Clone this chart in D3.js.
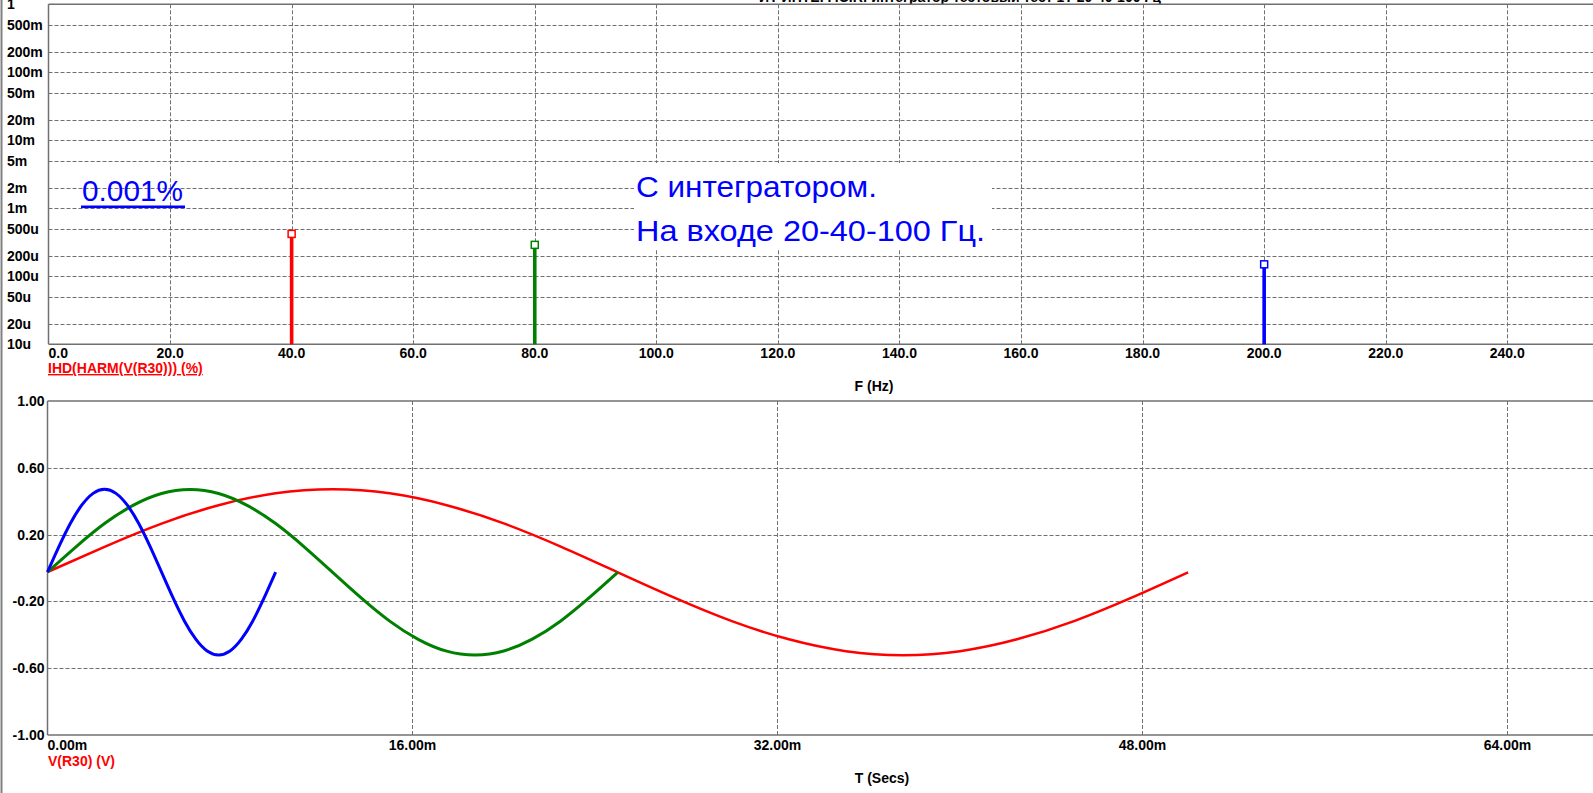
<!DOCTYPE html>
<html><head><meta charset="utf-8">
<script src="https://cdn.jsdelivr.net/npm/d3@7"></script>
<style>
html,body{margin:0;padding:0;background:#fff;overflow:hidden}
svg{display:block}
text{font-family:"Liberation Sans",Arial,sans-serif}
</style></head>
<body>
<script>
// ---------- DATA ----------
const titleText = "ИТ ИНТЕГР.CIR: интегратор тестовый тест 1Т 20-40-100 Гц";
// Top chart: harmonic distortion (IHD) spectrum
const harmFreq = [40, 80, 200];
const harmIHD = [4.2e-4, 2.9e-4, 1.5e-4];   // %
const harmColors = ["#ff0000", "#008000", "#0000ff"];
const fTicks = [0, 20, 40, 60, 80, 100, 120, 140, 160, 180, 200, 220, 240];
const fTickLabels = ["0.0","20.0","40.0","60.0","80.0","100.0","120.0","140.0","160.0","180.0","200.0","220.0","240.0"];
const ihdTicks = [1, 0.5, 0.2, 0.1, 0.05, 0.02, 0.01, 0.005, 0.002, 0.001, 5e-4, 2e-4, 1e-4, 5e-5, 2e-5, 1e-5];
const ihdTickLabels = ["1","500m","200m","100m","50m","20m","10m","5m","2m","1m","500u","200u","100u","50u","20u","10u"];
// Bottom chart: V(R30) transient, time in ms
const tBlue  = [0,0.5,1,1.5,2,2.5,3,3.5,4,4.5,5,5.5,6,6.5,7,7.5,8,8.5,9,9.5,10];
const vBlue  = [-0.024,0.128,0.267,0.376,0.447,0.471,0.447,0.376,0.267,0.128,-0.025,-0.178,-0.317,-0.426,-0.497,-0.521,-0.497,-0.426,-0.317,-0.178,-0.025];
const tGreen = [0,1.25,2.5,3.75,5,6.25,7.5,8.75,10,11.25,12.5,13.75,15,16.25,17.5,18.75,20,21.25,22.5,23.75,25];
const vGreen = [-0.024,0.127,0.266,0.375,0.446,0.470,0.446,0.375,0.266,0.127,-0.026,-0.179,-0.318,-0.427,-0.498,-0.521,-0.497,-0.426,-0.317,-0.178,-0.026];
const tRed   = [0,2.5,5,7.5,10,12.5,15,17.5,20,22.5,25,27.5,30,32.5,35,37.5,40,42.5,45,47.5,50];
const vRed   = [-0.024,0.127,0.266,0.376,0.447,0.471,0.447,0.376,0.267,0.128,-0.026,-0.179,-0.318,-0.427,-0.498,-0.522,-0.498,-0.427,-0.318,-0.179,-0.026];
const tTicks = [0, 16, 32, 48, 64];
const tTickLabels = ["0.00m","16.00m","32.00m","48.00m","64.00m"];
const vTicks = [1, 0.6, 0.2, -0.2, -0.6, -1];
const vTickLabels = ["1.00","0.60","0.20","-0.20","-0.60","-1.00"];
const traces = [
  {t: tRed, v: vRed, color: "#ff0000", w: 2.5},
  {t: tGreen, v: vGreen, color: "#008000", w: 3},
  {t: tBlue, v: vBlue, color: "#0000ff", w: 3}
];

// ---------- LAYOUT ----------
const W = 1593, H = 793;
const gridColor = "#707070", frameColor = "#707070";
const FS = 14;
const svg = d3.select("body").append("svg").attr("width", W).attr("height", H);

// window left edge
svg.append("line").attr("x1",1.5).attr("x2",1.5).attr("y1",0).attr("y2",H)
  .attr("stroke","#808080").attr("stroke-width",2);

// title (clipped at top, as in the reference)
svg.append("text").attr("x", 960).attr("y", 2).attr("text-anchor","middle")
  .attr("font-size",FS).attr("font-weight","bold").attr("fill","#000").text(titleText);

// ===== TOP CHART =====
const x1 = d3.scaleLinear().domain([0, 254.1]).range([48.5, 1593]);
const y1 = d3.scaleLog().domain([1e-5, 1]).range([344.3, 4.3]);
const gTop = svg.append("g");

gTop.selectAll(".hg").data(ihdTicks.filter(d => d !== 1 && d !== 1e-5)).enter().append("line")
  .attr("x1", x1(0)).attr("x2", W).attr("y1", d => Math.round(y1(d))+0.5).attr("y2", d => Math.round(y1(d))+0.5)
  .attr("stroke", gridColor).attr("stroke-dasharray","4,2").attr("stroke-width",1);
gTop.selectAll(".vg").data(fTicks.slice(1)).enter().append("line")
  .attr("x1", d => Math.round(x1(d))+0.5).attr("x2", d => Math.round(x1(d))+0.5)
  .attr("y1", y1(1)).attr("y2", y1(1e-5))
  .attr("stroke", gridColor).attr("stroke-dasharray","4,2").attr("stroke-width",1);

// annotation box (covers grid)
const noteLines = ["С интегратором.", "На входе 20-40-100 Гц."];
const noteWidths = [241, 349];
gTop.append("rect").attr("x",634).attr("y",163).attr("width",358).attr("height",86).attr("fill","#fff");

// frame
gTop.append("line").attr("x1", x1(0)).attr("x2", W).attr("y1", y1(1)).attr("y2", y1(1)).attr("stroke", frameColor).attr("stroke-width",1.5);
gTop.append("line").attr("x1", x1(0)).attr("x2", W).attr("y1", y1(1e-5)).attr("y2", y1(1e-5)).attr("stroke", frameColor).attr("stroke-width",1.5);
gTop.append("line").attr("x1", x1(0)).attr("x2", x1(0)).attr("y1", y1(1)).attr("y2", y1(1e-5)).attr("stroke", frameColor).attr("stroke-width",1.5);

gTop.selectAll(".yl").data(ihdTicks).enter().append("text")
  .attr("x", 7).attr("y", d => y1(d)).attr("dy","0.36em")
  .attr("font-size",FS).attr("font-weight","bold").attr("fill","#000")
  .text((d,i) => ihdTickLabels[i]);
gTop.selectAll(".xl").data(fTicks).enter().append("text")
  .attr("x", d => x1(d)).attr("y", 358)
  .attr("text-anchor", (d,i) => i === 0 ? "start" : "middle")
  .attr("font-size",FS).attr("font-weight","bold").attr("fill","#000")
  .text((d,i) => fTickLabels[i]);

// stems
const stems = harmFreq.map((f,i) => ({f, v: harmIHD[i], c: harmColors[i]}));
gTop.selectAll(".stem").data(stems).enter().append("line")
  .attr("x1", d => x1(d.f)).attr("x2", d => x1(d.f))
  .attr("y1", y1(1e-5)).attr("y2", d => y1(d.v) + 3.5)
  .attr("stroke", d => d.c).attr("stroke-width",3.6);
gTop.selectAll(".mk").data(stems).enter().append("rect")
  .attr("x", d => x1(d.f) - 3.5).attr("y", d => y1(d.v) - 3.5)
  .attr("width",7).attr("height",7)
  .attr("fill","#fff").attr("stroke", d => d.c).attr("stroke-width",1.5);

gTop.append("text").attr("x",48).attr("y",373).attr("font-size",FS).attr("font-weight","bold")
  .attr("fill","#ff0000").attr("text-decoration","underline").text("IHD(HARM(V(R30))) (%)");
gTop.append("text").attr("x",874).attr("y",391).attr("text-anchor","middle").attr("font-size",FS).attr("font-weight","bold")
  .attr("fill","#000").text("F (Hz)");

// annotations
gTop.append("text").attr("x",82).attr("y",200.7).attr("font-family","Lato, sans-serif").attr("font-size",30)
  .attr("fill","#0000ff").attr("textLength",101).attr("lengthAdjust","spacingAndGlyphs").text("0.001%");
gTop.append("rect").attr("x",81).attr("y",205.5).attr("width",104).attr("height",2.6).attr("fill","#0000ff");
noteLines.forEach((s,i) => {
  gTop.append("text").attr("x",636).attr("y", i === 0 ? 196.7 : 240.7)
    .attr("font-family","'Comic Sans MS','Comic Neue','Open Sans',sans-serif").attr("font-size",29)
    .attr("fill","#0000ff").attr("textLength", noteWidths[i]).attr("lengthAdjust","spacingAndGlyphs").text(s);
});

// ===== BOTTOM CHART =====
const x2 = d3.scaleLinear().domain([0, 67.75]).range([47.5, 1593]);
const y2 = d3.scaleLinear().domain([-1, 1]).range([735, 401]);
const gBot = svg.append("g");

gBot.selectAll(".hg").data(vTicks.slice(1,-1)).enter().append("line")
  .attr("x1", x2(0)).attr("x2", W).attr("y1", d => Math.round(y2(d))+0.5).attr("y2", d => Math.round(y2(d))+0.5)
  .attr("stroke", gridColor).attr("stroke-dasharray","4,2").attr("stroke-width",1);
gBot.selectAll(".vg").data(tTicks.slice(1)).enter().append("line")
  .attr("x1", d => Math.round(x2(d))+0.5).attr("x2", d => Math.round(x2(d))+0.5)
  .attr("y1", y2(1)).attr("y2", y2(-1))
  .attr("stroke", gridColor).attr("stroke-dasharray","4,2").attr("stroke-width",1);

gBot.append("line").attr("x1", x2(0)).attr("x2", W).attr("y1", y2(1)).attr("y2", y2(1)).attr("stroke", frameColor).attr("stroke-width",1.5);
gBot.append("line").attr("x1", x2(0)).attr("x2", W).attr("y1", y2(-1)).attr("y2", y2(-1)).attr("stroke", frameColor).attr("stroke-width",1.5);
gBot.append("line").attr("x1", x2(0)).attr("x2", x2(0)).attr("y1", y2(1)).attr("y2", y2(-1)).attr("stroke", frameColor).attr("stroke-width",1.5);

gBot.selectAll(".yl").data(vTicks).enter().append("text")
  .attr("x", 44.5).attr("y", d => y2(d)).attr("dy","0.36em").attr("text-anchor","end")
  .attr("font-size",FS).attr("font-weight","bold").attr("fill","#000")
  .text((d,i) => vTickLabels[i]);
gBot.selectAll(".xl").data(tTicks).enter().append("text")
  .attr("x", d => x2(d)).attr("y", 749.5)
  .attr("text-anchor", (d,i) => i === 0 ? "start" : "middle")
  .attr("font-size",FS).attr("font-weight","bold").attr("fill","#000")
  .text((d,i) => tTickLabels[i]);

const line = d3.line().x(d => x2(d[0])).y(d => y2(d[1])).curve(d3.curveNatural);
traces.forEach(tr => {
  gBot.append("path").datum(tr.t.map((t,i) => [t, tr.v[i]]))
    .attr("d", line).attr("fill","none").attr("stroke", tr.color).attr("stroke-width", tr.w)
    .attr("stroke-linejoin","round");
});

gBot.append("text").attr("x",48).attr("y",765.5).attr("font-size",FS).attr("font-weight","bold")
  .attr("fill","#ff0000").text("V(R30) (V)");
gBot.append("text").attr("x",882).attr("y",783).attr("text-anchor","middle").attr("font-size",FS).attr("font-weight","bold")
  .attr("fill","#000").text("T (Secs)");
</script>
</body></html>
